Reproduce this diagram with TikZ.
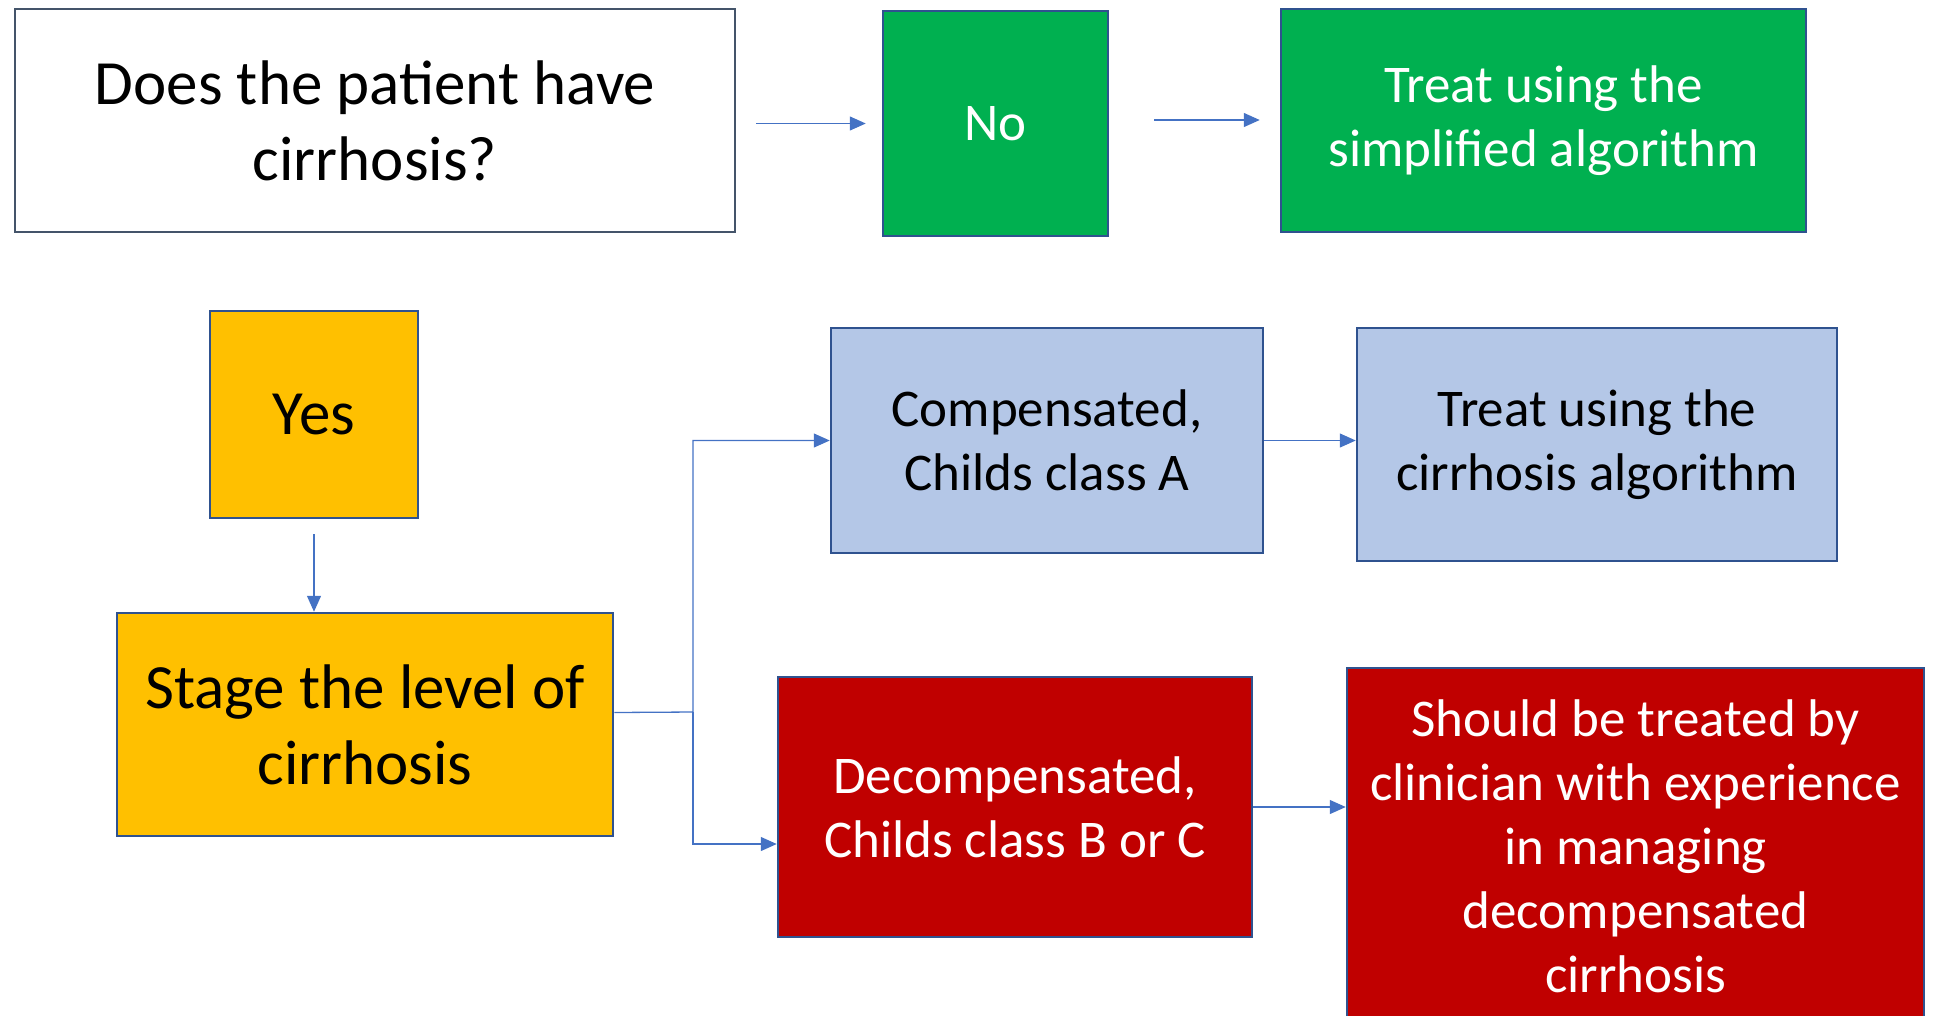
\documentclass[tikz,border=0pt]{standalone}
\usepackage{fontspec}
\setmainfont{Carlito}
\usetikzlibrary{arrows.meta,positioning}
\definecolor{boxline}{HTML}{2F528F}
\definecolor{qline}{HTML}{44546A}
\definecolor{nogreen}{HTML}{00B050}
\definecolor{yesgold}{HTML}{FFC000}
\definecolor{compblue}{HTML}{B4C7E7}
\definecolor{decompred}{HTML}{C00000}
\definecolor{flowblue}{HTML}{4472C4}

\begin{document}
\begin{tikzpicture}[x=1pt, y=-1pt,
		box/.style={draw=boxline, line width=2.5pt, align=center, inner sep=0pt},
		bigtext/.style={font=\fontsize{63}{76}\selectfont},
		smalltext/.style={font=\fontsize{53}{64}\selectfont},
		flow/.style={draw=flowblue, line width=1.3pt, -{Triangle[length=16pt, width=14pt]}},
	]
	\useasboundingbox (0,0) rectangle (1934,1015);
	\clip (0,0) rectangle (1934,1015);

	% top row
	\node[box, draw=qline, fill=white, bigtext, minimum width=720pt, minimum height=223pt] (cirrhosis) at (375,120.5) {Does the patient have\\cirrhosis?};
	\node[box, fill=nogreen, text=white, smalltext, minimum width=225pt, minimum height=225pt] (no) at (995.5,123.5) {No};
	\node[box, fill=nogreen, text=white, smalltext, minimum width=525pt, minimum height=223pt] (simple) at (1543.5,120.5) {Treat using the\\simplified algorithm};

	% yes branch
	\node[box, fill=yesgold, bigtext, minimum width=208pt, minimum height=207pt] (yes) at (314,414.5) {Yes};
	\node[box, fill=yesgold, bigtext, minimum width=496pt, minimum height=223pt] (stage) at (365,724.5) {Stage the level of\\cirrhosis};

	\node[box, fill=compblue, smalltext, minimum width=432pt, minimum height=225pt] (comp) at (1047,440.5) {Compensated,\\Childs class A};
	\node[box, fill=compblue, smalltext, minimum width=480pt, minimum height=233pt] (cirralgo) at (1597,444.5) {Treat using the\\cirrhosis algorithm};

	\node[box, fill=decompred, text=white, smalltext, minimum width=474pt, minimum height=260pt] (decomp) at (1015,807) {Decompensated,\\Childs class B or C};
	\node[box, fill=decompred, text=white, smalltext, minimum width=577pt, minimum height=356pt] (expert) at (1635.5,846) {Should be treated by\\clinician with experience\\in managing\\decompensated\\cirrhosis};

	\coordinate (split) at (693,712);

	\draw[flow, shorten <=20pt, shorten >=16pt] (cirrhosis.east |- no) -- (no);
	\draw[flow, shorten <=45pt, shorten >=20pt] (no.east |- 0,120) -- (simple.west |- 0,120);
	\draw[flow, shorten <=15pt] (yes.south) -- (yes.south |- stage.north);
	\draw[flow] ([yshift=12pt]stage.east) -- (split) |- (comp.west);
	\draw[flow] (split) |- ([yshift=-37pt]decomp.west);
	\draw[flow] (comp.east) -- (comp.east -| cirralgo.west);
	\draw[flow] (decomp.east) -- (decomp.east -| expert.west);
\end{tikzpicture}
\end{document}
